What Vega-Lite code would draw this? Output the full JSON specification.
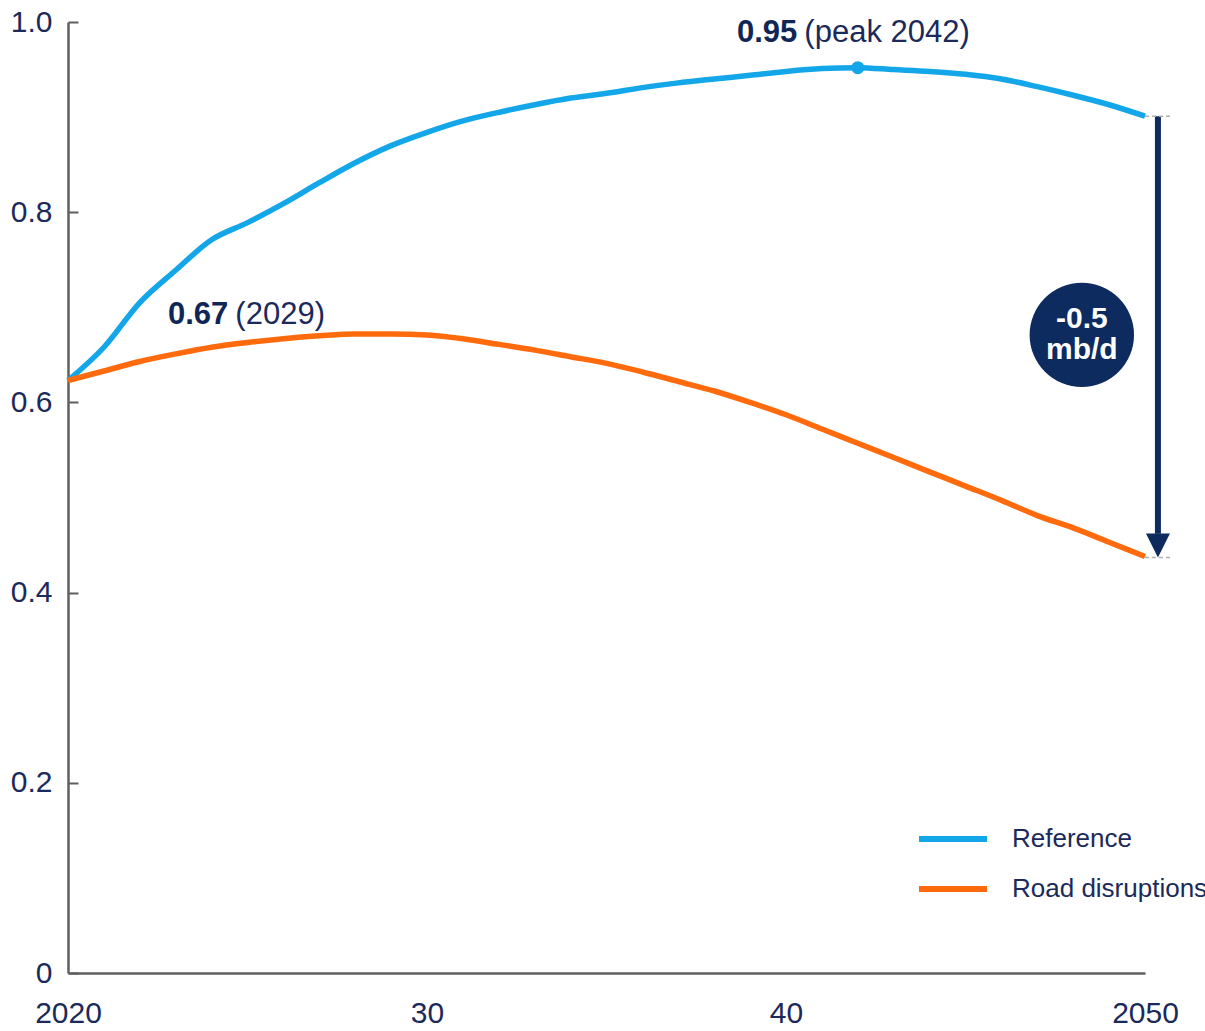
{
  "$schema": "https://vega.github.io/schema/vega-lite/v6.json",
  "width": 1077,
  "height": 951,
  "autosize": "none",
  "padding": {"left": 68, "top": 22, "right": 60, "bottom": 58},
  "background": "white",
  "config": {
    "view": {"stroke": null},
    "font": "Liberation Sans",
    "axis": {"grid": false, "domainColor": "#5f5f5f", "domainWidth": 2.5, "tickColor": "#5f5f5f", "labelColor": "#1b2a5a", "labelFont": "Liberation Sans", "labelFontSize": 30, "titleFontSize": 0}
  },
  "datasets": {
    "series": [
      {"year": 2020, "value": 0.623, "scenario": "Reference"},
      {"year": 2021, "value": 0.658, "scenario": "Reference"},
      {"year": 2022, "value": 0.705, "scenario": "Reference"},
      {"year": 2023, "value": 0.739, "scenario": "Reference"},
      {"year": 2024, "value": 0.771, "scenario": "Reference"},
      {"year": 2025, "value": 0.789, "scenario": "Reference"},
      {"year": 2026, "value": 0.809, "scenario": "Reference"},
      {"year": 2027, "value": 0.831, "scenario": "Reference"},
      {"year": 2028, "value": 0.852, "scenario": "Reference"},
      {"year": 2029, "value": 0.870, "scenario": "Reference"},
      {"year": 2030, "value": 0.884, "scenario": "Reference"},
      {"year": 2031, "value": 0.896, "scenario": "Reference"},
      {"year": 2032, "value": 0.905, "scenario": "Reference"},
      {"year": 2033, "value": 0.913, "scenario": "Reference"},
      {"year": 2034, "value": 0.920, "scenario": "Reference"},
      {"year": 2035, "value": 0.925, "scenario": "Reference"},
      {"year": 2036, "value": 0.931, "scenario": "Reference"},
      {"year": 2037, "value": 0.936, "scenario": "Reference"},
      {"year": 2038, "value": 0.940, "scenario": "Reference"},
      {"year": 2039, "value": 0.944, "scenario": "Reference"},
      {"year": 2040, "value": 0.948, "scenario": "Reference"},
      {"year": 2041, "value": 0.951, "scenario": "Reference"},
      {"year": 2042, "value": 0.952, "scenario": "Reference"},
      {"year": 2043, "value": 0.950, "scenario": "Reference"},
      {"year": 2044, "value": 0.948, "scenario": "Reference"},
      {"year": 2045, "value": 0.945, "scenario": "Reference"},
      {"year": 2046, "value": 0.940, "scenario": "Reference"},
      {"year": 2047, "value": 0.932, "scenario": "Reference"},
      {"year": 2048, "value": 0.923, "scenario": "Reference"},
      {"year": 2049, "value": 0.913, "scenario": "Reference"},
      {"year": 2050, "value": 0.901, "scenario": "Reference"},
      {"year": 2020, "value": 0.623, "scenario": "Road disruptions"},
      {"year": 2021, "value": 0.633, "scenario": "Road disruptions"},
      {"year": 2022, "value": 0.643, "scenario": "Road disruptions"},
      {"year": 2023, "value": 0.651, "scenario": "Road disruptions"},
      {"year": 2024, "value": 0.658, "scenario": "Road disruptions"},
      {"year": 2025, "value": 0.663, "scenario": "Road disruptions"},
      {"year": 2026, "value": 0.667, "scenario": "Road disruptions"},
      {"year": 2027, "value": 0.670, "scenario": "Road disruptions"},
      {"year": 2028, "value": 0.672, "scenario": "Road disruptions"},
      {"year": 2029, "value": 0.672, "scenario": "Road disruptions"},
      {"year": 2030, "value": 0.671, "scenario": "Road disruptions"},
      {"year": 2031, "value": 0.667, "scenario": "Road disruptions"},
      {"year": 2032, "value": 0.661, "scenario": "Road disruptions"},
      {"year": 2033, "value": 0.655, "scenario": "Road disruptions"},
      {"year": 2034, "value": 0.648, "scenario": "Road disruptions"},
      {"year": 2035, "value": 0.641, "scenario": "Road disruptions"},
      {"year": 2036, "value": 0.632, "scenario": "Road disruptions"},
      {"year": 2037, "value": 0.622, "scenario": "Road disruptions"},
      {"year": 2038, "value": 0.612, "scenario": "Road disruptions"},
      {"year": 2039, "value": 0.600, "scenario": "Road disruptions"},
      {"year": 2040, "value": 0.587, "scenario": "Road disruptions"},
      {"year": 2041, "value": 0.572, "scenario": "Road disruptions"},
      {"year": 2042, "value": 0.557, "scenario": "Road disruptions"},
      {"year": 2043, "value": 0.542, "scenario": "Road disruptions"},
      {"year": 2044, "value": 0.527, "scenario": "Road disruptions"},
      {"year": 2045, "value": 0.512, "scenario": "Road disruptions"},
      {"year": 2046, "value": 0.497, "scenario": "Road disruptions"},
      {"year": 2047, "value": 0.481, "scenario": "Road disruptions"},
      {"year": 2048, "value": 0.468, "scenario": "Road disruptions"},
      {"year": 2049, "value": 0.453, "scenario": "Road disruptions"},
      {"year": 2050, "value": 0.438, "scenario": "Road disruptions"}
    ]
  },
  "layer": [
    {
      "data": {"name": "series"},
      "mark": {"type": "line", "strokeWidth": 5.5, "interpolate": "monotone"},
      "encoding": {
        "x": {"field": "year", "type": "quantitative", "scale": {"domain": [2020, 2050], "nice": false, "zero": false},
              "axis": {"title": null, "values": [2020, 2030, 2040, 2050], "ticks": false, "labelPadding": 25, "format": "d",
                       "labelExpr": "datum.value == 2020 || datum.value == 2050 ? datum.label : slice(datum.label, 2)", "labelFlush": false}},
        "y": {"field": "value", "type": "quantitative", "scale": {"domain": [0, 1], "nice": false},
              "axis": {"title": null, "values": [0, 0.2, 0.4, 0.6, 0.8, 1.0], "tickSize": -10, "tickWidth": 2, "labelPadding": 26,
                       "labelExpr": "datum.value == 0 ? '0' : format(datum.value, '.1f')"}},
        "color": {"field": "scenario", "type": "nominal",
                  "scale": {"domain": ["Reference", "Road disruptions"], "range": ["#13a6e9", "#ff6a0d"]},
                  "legend": {"title": null, "orient": "none", "legendX": 848, "legendY": 780, "symbolType": "stroke",
                             "symbolSize": 4624, "symbolStrokeWidth": 6, "labelFontSize": 26, "labelColor": "#1b2a5a",
                             "labelFont": "Liberation Sans", "labelOffset": 22, "labelLimit": 0, "rowPadding": -18, "padding": 0}}
      }
    },
    {
      "data": {"values": [{"year": 2042, "value": 0.952}]},
      "mark": {"type": "point", "filled": true, "size": 170, "color": "#13a6e9", "opacity": 1},
      "encoding": {"x": {"field": "year", "type": "quantitative"}, "y": {"field": "value", "type": "quantitative"}}
    },
    {
      "data": {"values": [{"year": 2040.4, "value": 0.988, "bold": "0.95", "normal": "(peak 2042)"}, {"year": 2024.55, "value": 0.692, "bold": "0.67", "normal": "(2029)"}]},
      "layer": [
        {"mark": {"type": "text", "align": "right", "baseline": "middle", "dx": -3, "fontSize": 31, "fontWeight": "bold", "color": "#0f2656", "font": "Liberation Sans"},
         "encoding": {"x": {"field": "year", "type": "quantitative"}, "y": {"field": "value", "type": "quantitative"}, "text": {"field": "bold"}}},
        {"mark": {"type": "text", "align": "left", "baseline": "middle", "dx": 4, "fontSize": 31, "color": "#1b2a5a", "font": "Liberation Sans"},
         "encoding": {"x": {"field": "year", "type": "quantitative"}, "y": {"field": "value", "type": "quantitative"}, "text": {"field": "normal"}}}
      ]
    },
    {
      "data": {"values": [{"year": 2050.36, "top": 0.901, "bottom": 0.462}]},
      "mark": {"type": "rule", "strokeWidth": 6, "color": "#0d2b5e"},
      "encoding": {"x": {"field": "year", "type": "quantitative"}, "y": {"field": "top", "type": "quantitative"}, "y2": {"field": "bottom"}}
    },
    {
      "data": {"values": [{"year": 2050.36, "value": 0.4495}]},
      "mark": {"type": "point", "shape": "M-1,-1L1,-1L0,1Z", "filled": true, "size": 576, "color": "#0d2b5e", "opacity": 1},
      "encoding": {"x": {"field": "year", "type": "quantitative"}, "y": {"field": "value", "type": "quantitative"}}
    },
    {
      "data": {"values": [{"x1": 2050.0, "x2": 2050.75, "value": 0.901}, {"x1": 2050.0, "x2": 2050.75, "value": 0.437}]},
      "mark": {"type": "rule", "strokeWidth": 1.5, "color": "#b0b0b0", "strokeDash": [4, 3]},
      "encoding": {"x": {"field": "x1", "type": "quantitative"}, "x2": {"field": "x2"}, "y": {"field": "value", "type": "quantitative"}}
    },
    {
      "data": {"values": [{"year": 2048.24, "value": 0.671, "label": ["-0.5", "mb/d"]}]},
      "layer": [
        {"mark": {"type": "point", "shape": "circle", "filled": true, "size": 10900, "color": "#0d2b5e", "opacity": 1},
         "encoding": {"x": {"field": "year", "type": "quantitative"}, "y": {"field": "value", "type": "quantitative"}}},
        {"mark": {"type": "text", "align": "center", "baseline": "middle", "dy": -16, "fontSize": 30, "fontWeight": "bold", "color": "white", "lineHeight": 31, "font": "Liberation Sans"},
         "encoding": {"x": {"field": "year", "type": "quantitative"}, "y": {"field": "value", "type": "quantitative"}, "text": {"field": "label"}}}
      ]
    }
  ]
}
